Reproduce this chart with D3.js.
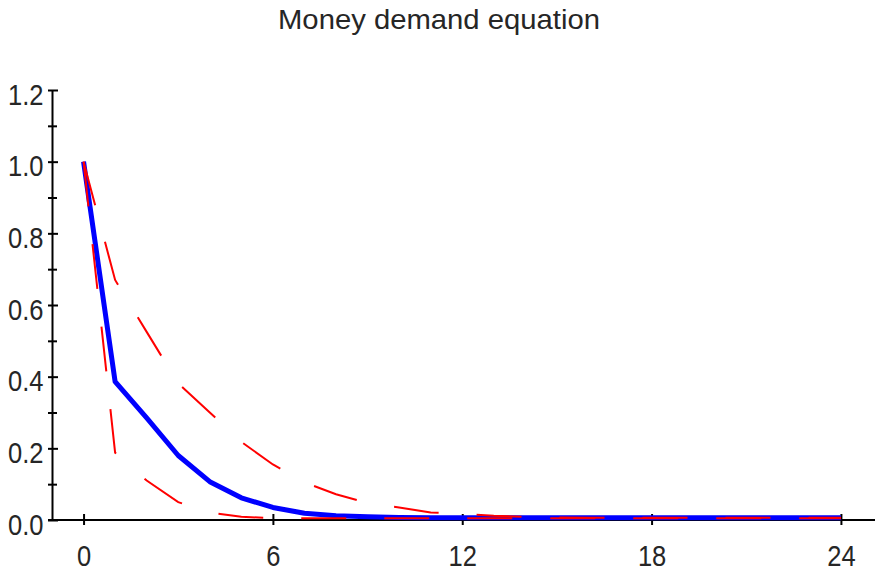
<!DOCTYPE html>
<html lang="en">
<head>
    <meta charset="UTF-8">
    <title>Money demand equation</title>
    <style>
        body,
        html {
            margin: 0;
            padding: 0;
            background: #fff;
        }
        text {
            font-family: "Liberation Sans", Arial, sans-serif;
            fill: #262626;
        }
    </style>
    <script src="https://d3js.org/d3.v7.min.js"></script>
</head>
<body>
<div id="chart"></div>
<script>
    // horizon 0..24
    let steps = d3.range(0, 25);
    let response = [1.0, 0.386, 0.285, 0.18, 0.107, 0.062, 0.035, 0.019, 0.012, 0.009, 0.007,
        0.006, 0.006, 0.006, 0.006, 0.006, 0.006, 0.006, 0.006, 0.006, 0.006, 0.006, 0.006, 0.006, 0.006];
    let upperBand = [1.0, 0.67, 0.525, 0.381, 0.3, 0.218, 0.155, 0.105, 0.072, 0.047, 0.035,
        0.021, 0.017, 0.012, 0.009, 0.007, 0.006, 0.006, 0.006, 0.006, 0.006, 0.006, 0.006, 0.006, 0.006];
    let lowerBand = [1.0, 0.188, 0.11, 0.05, 0.021, 0.009, 0.005, 0.005, 0.005, 0.005, 0.005,
        0.005, 0.005, 0.005, 0.005, 0.005, 0.005, 0.005, 0.005, 0.005, 0.005, 0.005, 0.005, 0.005, 0.005];
    let xTicks = [0, 6, 12, 18, 24];
    let yTicks = [0, 0.2, 0.4, 0.6, 0.8, 1.0, 1.2];
    let yMinor = [0.1, 0.3, 0.5, 0.7, 0.9, 1.1];
    let title = 'Money demand equation';

    let width = 877, height = 576;
    let sx = 0.88; // labels in the original are a bit narrow

    let svg = d3.select('#chart').append('svg')
        .attr('width', width).attr('height', height);

    let x = d3.scaleLinear().domain([-1, 25.08]).range([52, 875]);
    let y = d3.scaleLinear().domain([0, 1.2]).range([520, 90]);

    svg.append('text')
        .attr('x', 439).attr('y', 29)
        .attr('text-anchor', 'middle')
        .attr('textLength', 322)
        .attr('lengthAdjust', 'spacingAndGlyphs')
        .style('font-size', '27.5px')
        .text(title);

    // y axis
    let yAxis = svg.append('g')
        .attr('transform', 'translate(' + x(-1) + ',0)')
        .call(d3.axisLeft(y).tickValues(yTicks).tickFormat(d3.format('.1f')).tickSizeOuter(0));
    yAxis.attr('font-family', null).attr('font-size', null);
    yAxis.select('.domain').attr('stroke-width', 2);
    yAxis.selectAll('.tick line').attr('x1', -4).attr('x2', 6).attr('stroke-width', 2);
    yAxis.selectAll('.tick text')
        .attr('x', -8.5 / sx).attr('y', 14).attr('dy', null)
        .attr('transform', 'scale(' + sx + ',1)')
        .style('font-size', '29px').attr('fill', null);

    let yMin = svg.append('g')
        .attr('transform', 'translate(' + x(-1) + ',0)')
        .call(d3.axisLeft(y).tickValues(yMinor).tickFormat('').tickSizeOuter(0));
    yMin.select('.domain').remove();
    yMin.selectAll('.tick line').attr('x1', -4).attr('x2', 5).attr('stroke-width', 2);

    // x axis
    let xAxis = svg.append('g')
        .attr('transform', 'translate(0,' + y(0) + ')')
        .call(d3.axisBottom(x).tickValues(xTicks).tickSizeOuter(0));
    xAxis.attr('font-family', null).attr('font-size', null);
    xAxis.select('.domain').attr('d', 'M' + (x(-1) - 4) + ',0H' + x.range()[1]).attr('stroke-width', 2);
    xAxis.selectAll('.tick line').attr('y1', -6).attr('y2', 5).attr('stroke-width', 2);
    xAxis.selectAll('.tick text')
        .attr('y', 46.5).attr('dy', null)
        .attr('transform', 'scale(' + sx + ',1)')
        .style('font-size', '29px').attr('fill', null);

    let line = d3.line()
        .x((d, i) => x(steps[i]))
        .y(d => y(d));

    svg.append('path')
        .datum(response)
        .attr('d', line)
        .attr('fill', 'none')
        .attr('stroke', '#0000ff')
        .attr('stroke-width', 5)
        .attr('stroke-linejoin', 'round');

    [upperBand, lowerBand].forEach(band => {
        svg.append('path')
            .datum(band)
            .attr('d', line)
            .attr('fill', 'none')
            .attr('stroke', '#ff0000')
            .attr('stroke-width', 2)
            .attr('stroke-dasharray', '45,38');
    });
</script>
</body>
</html>
